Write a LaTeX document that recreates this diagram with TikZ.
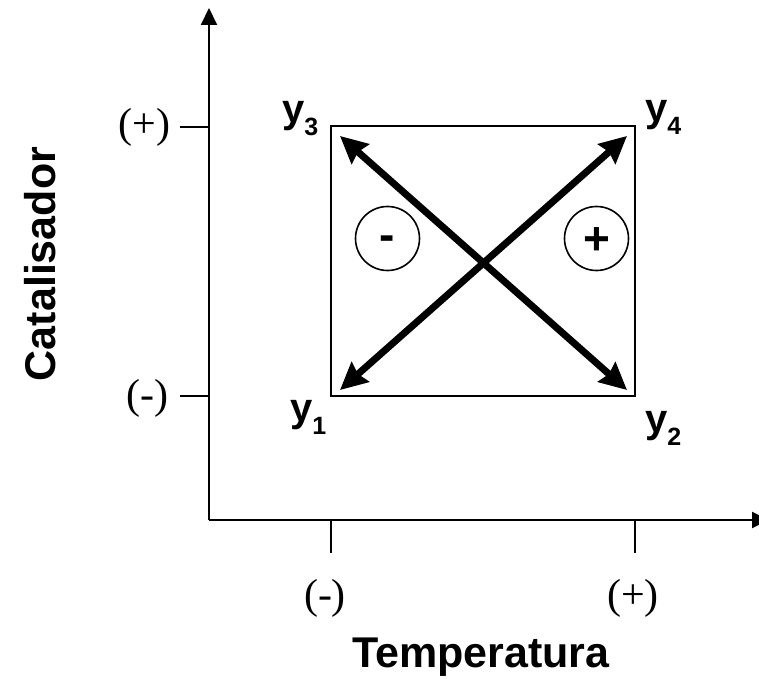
\documentclass[tikz,border=0pt]{standalone}
\usepackage{fontspec}
\setmainfont{Liberation Serif}
\newfontfamily\arialf{Liberation Sans}
\usetikzlibrary{arrows.meta}
\tikzset{
  axis/.style={line width=2pt, -{Triangle[length=17pt,width=16pt]}},
  tick/.style={line width=2pt},
  bigarrow/.style={line width=7pt, {Stealth[length=27pt,width=26pt,inset=3pt]}-{Stealth[length=27pt,width=26pt,inset=3pt]}},
  sign/.style={draw, line width=1.6pt, circle, minimum size=64pt, inner sep=0pt},
  lbl/.style={inner sep=0pt, font=\fontsize{42}{46}\selectfont},
  ylab/.style={inner sep=0pt, anchor=base west, font=\arialf\bfseries\fontsize{40}{44}\selectfont},
  title/.style={inner sep=0pt, font=\arialf\bfseries\fontsize{43}{48}\selectfont},
  signtxt/.style={inner sep=0pt, anchor=base, font=\arialf\bfseries\fontsize{46}{50}\selectfont},
}
\newcommand{\ysub}[1]{y\raisebox{-13pt}{\fontsize{25}{28}\selectfont #1}}
\begin{document}
\begin{tikzpicture}[x=1pt,y=1pt]
\useasboundingbox (0,0) rectangle (759,678);
% axes
\coordinate (O) at (209,158);
\coordinate (ytop) at (209,670);
\coordinate (xend) at (769,158);
\draw[axis] (O) -- (ytop);
\draw[axis] (O) -- (xend);
% ticks
\coordinate (tx1a) at (331,158); \coordinate (tx1b) at (331,125);
\coordinate (tx2a) at (635,158); \coordinate (tx2b) at (635,125);
\coordinate (ty1a) at (209,551); \coordinate (ty1b) at (180,551);
\coordinate (ty2a) at (209,282); \coordinate (ty2b) at (180,282);
\draw[tick] (tx1a) -- (tx1b);
\draw[tick] (tx2a) -- (tx2b);
\draw[tick] (ty1a) -- (ty1b);
\draw[tick] (ty2a) -- (ty2b);
% box
\draw[line width=2pt] (331,282) rectangle (635,552);
% arrows
\coordinate (c1) at (340,288);
\coordinate (c2) at (627,288);
\coordinate (c3) at (340,542);
\coordinate (c4) at (627,542);
\draw[bigarrow] (c1) -- (c4);
\draw[bigarrow] (c3) -- (c2);
% circles
\node[sign] (cm) at (387.5,439.5) {};
\node[sign] (cp) at (596.5,439.5) {};
\node[signtxt] (minus) at (387,427) {-};
\node[signtxt] (plus) at (597,423) {+};
% y labels
\node[ylab] (y3) at (282,555) {\ysub{3}};
\node[ylab] (y4) at (645,556) {\ysub{4}};
\node[ylab] (y1) at (290,257) {\ysub{1}};
\node[ylab] (y2) at (645,246) {\ysub{2}};
% tick labels
\node[lbl] (lp) at (144.5,550.5) {(+)};
\node[lbl] (lm) at (147.5,280) {(-)};
\node[lbl] (bm) at (325,80) {(-)};
\node[lbl] (bp) at (633,80) {(+)};
% titles
\node[title, rotate=90] (cat) at (40,414) {Catalisador};
\node[title, anchor=base west] (temp) at (352,11) {Temperatura};
\end{tikzpicture}
\end{document}
